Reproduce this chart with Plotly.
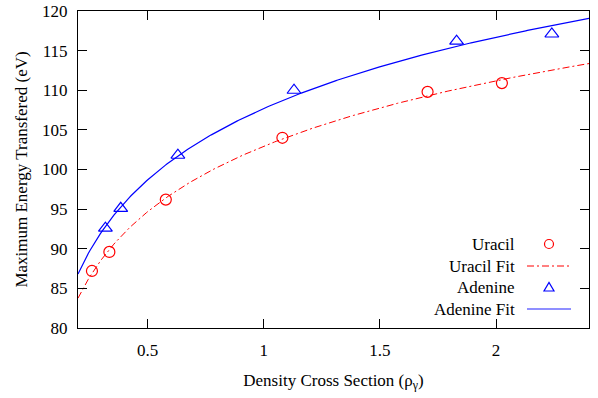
import numpy as np
import plotly.graph_objects as go

# ---- data ----
uracil_x = [0.26, 0.335, 0.578, 1.08, 1.705, 2.025]
uracil_y = [87.2, 89.6, 96.2, 104.0, 109.8, 110.9]
adenine_x = [0.318, 0.384, 0.630, 1.130, 1.830, 2.240]
adenine_y = [92.6, 95.1, 101.8, 110.0, 116.2, 117.1]

x_range = [0.2, 2.4]
y_range = [80, 120]
x_ticks = [0.5, 1, 1.5, 2]
x_tick_labels = ["0.5", "1", "1.5", "2"]
y_ticks = [80, 85, 90, 95, 100, 105, 110, 115, 120]
legend_labels = ["Uracil", "Uracil Fit", "Adenine", "Adenine Fit"]

# logarithmic fits y = a + b ln(x), computed from the data
bu, au = np.polyfit(np.log(uracil_x), uracil_y, 1)
ba, aa = np.polyfit(np.log(adenine_x), adenine_y, 1)
xf = np.linspace(x_range[0], x_range[1], 300)

RED = "#ff0000"
BLUE = "#0000ff"
FONT = "Liberation Serif"
FS = 17
DASH = "7px,3px,2px,3px"

fig = go.Figure()
fig.add_trace(go.Scatter(x=xf, y=au + bu * np.log(xf), mode="lines",
                         line=dict(color=RED, width=1, dash=DASH),
                         showlegend=False))
fig.add_trace(go.Scatter(x=xf, y=aa + ba * np.log(xf), mode="lines",
                         line=dict(color=BLUE, width=1.2), showlegend=False))
fig.add_trace(go.Scatter(x=uracil_x, y=uracil_y, mode="markers",
                         marker=dict(symbol="circle-open", size=11, color=RED,
                                     line=dict(width=1.2, color=RED)),
                         showlegend=False))
fig.add_trace(go.Scatter(x=adenine_x, y=adenine_y, mode="markers",
                         marker=dict(symbol="triangle-up-open", size=12, color=BLUE,
                                     line=dict(width=1.2, color=BLUE)),
                         showlegend=False))

# ---- manual legend (text right, sample right of text) ----
L, R, T, B = 78, 589, 11, 328
def px(xp):
    return (xp - L) / (R - L)
def py(yp):
    return (B - yp) / (B - T)

rows_y = [244, 266, 287.5, 309]
text_right = 517
samp_c = 549
samp_l, samp_r = 527, 571
annotations = []
shapes = []
for lab, yy in zip(legend_labels, rows_y):
    annotations.append(dict(text=lab, x=px(text_right), y=py(yy), xref="paper", yref="paper",
                            xanchor="right", yanchor="middle", showarrow=False,
                            font=dict(family=FONT, size=FS, color="black")))
# Uracil marker sample
shapes.append(dict(type="circle", xref="paper", yref="paper", xsizemode="pixel", ysizemode="pixel",
                   xanchor=px(samp_c), yanchor=py(rows_y[0]), x0=-4.5, x1=4.5, y0=-4.5, y1=4.5,
                   line=dict(color=RED, width=1.2)))
# Uracil fit sample
shapes.append(dict(type="line", xref="paper", yref="paper", x0=px(samp_l), x1=px(samp_r),
                   y0=py(rows_y[1]), y1=py(rows_y[1]),
                   line=dict(color=RED, width=1, dash=DASH)))
# Adenine marker sample
shapes.append(dict(type="path", xref="paper", yref="paper", xsizemode="pixel", ysizemode="pixel",
                   xanchor=px(samp_c), yanchor=py(rows_y[2]),
                   path="M -5 -3.5 L 5 -3.5 L 0 5 Z",
                   line=dict(color=BLUE, width=1.2)))
# Adenine fit sample
shapes.append(dict(type="line", xref="paper", yref="paper", x0=px(samp_l), x1=px(samp_r),
                   y0=py(rows_y[3]), y1=py(rows_y[3]),
                   line=dict(color="#6a6aff", width=1.5)))

axis_common = dict(showline=True, linecolor="black", linewidth=1, mirror="allticks",
                   ticks="inside", ticklen=9, tickcolor="black", tickwidth=1,
                   showgrid=False, zeroline=False, automargin=False,
                   tickfont=dict(family=FONT, size=FS, color="black"))

fig.update_layout(
    width=598, height=398,
    margin=dict(l=L, r=598 - R, t=T, b=398 - B, autoexpand=False),
    paper_bgcolor="white", plot_bgcolor="white",
    xaxis=dict(range=x_range, tickvals=x_ticks, ticktext=x_tick_labels,
               ticklabelstandoff=7,
               title=dict(text="Density Cross Section (ρ<sub>γ</sub>)",
                          font=dict(family=FONT, size=FS, color="black"), standoff=14),
               **axis_common),
    yaxis=dict(range=y_range, tickvals=y_ticks, ticklabelstandoff=6,
               title=dict(text="Maximum Energy Transfered (eV)",
                          font=dict(family=FONT, size=FS, color="black"), standoff=10),
               **axis_common),
    annotations=annotations,
    shapes=shapes,
    showlegend=False,
)

fig.write_html("out.html")
